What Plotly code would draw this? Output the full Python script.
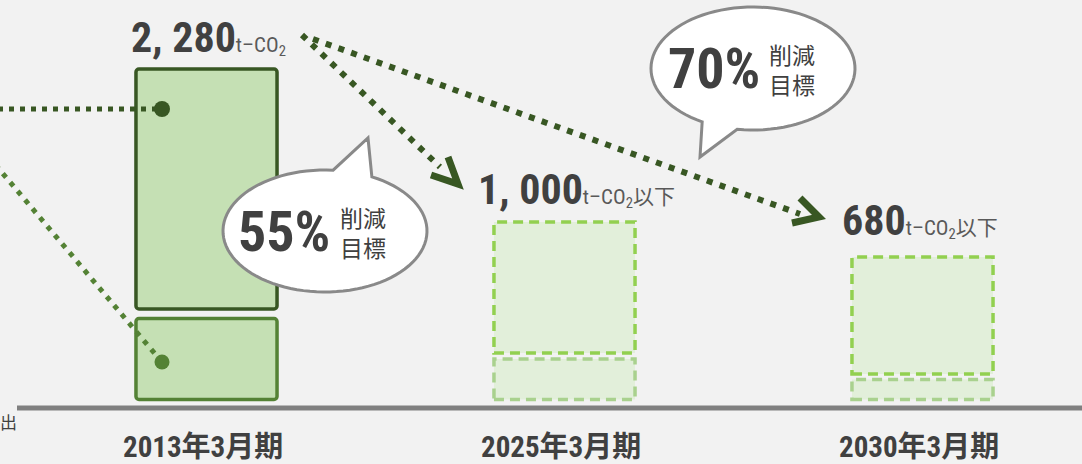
import math
import plotly.graph_objects as go

W, H = 1082, 464

# ---- data ----
categories = ["2013年3月期", "2025年3月期", "2030年3月期"]
total_labels = ["2, 280", "1, 000", "680"]
label_suffix = ["t–CO<sub>2</sub>", "t–CO<sub>2</sub>以下", "t–CO<sub>2</sub>以下"]
# displayed segment heights (drawing units)
lower_height = [81, 40.5, 20]
segment_gap = [9.5, 6, 5.5]
upper_height = [240, 131, 117]
target_pct = ["55%", "70%"]
target_text = "削減<br>目標"

BG = "#f2f2f2"
TXT = "#404040"
DK = "#385723"
MD = "#548235"
FILL = "#c5e0b4"
FFILL = "#e2efda"
DASH_UP = "#92d050"
DASH_LO = "#a9d18e"
GRAY = "#898989"
FONT = "Roboto Condensed, Noto Sans CJK JP, sans-serif"
CJK = "Noto Sans CJK JP"

bar_w = 0.394
upper_base = [l + g for l, g in zip(lower_height, segment_gap)]

fig = go.Figure()
# actual (2013)
fig.add_bar(x=categories[:1], y=lower_height[:1], base=[0], width=bar_w,
            marker=dict(color=FILL, line=dict(color=MD, width=3.5), cornerradius=3),
            showlegend=False, hoverinfo="skip")
fig.add_bar(x=categories[:1], y=upper_height[:1], base=upper_base[:1], width=bar_w,
            marker=dict(color=FILL, line=dict(color=DK, width=3.5), cornerradius=3),
            showlegend=False, hoverinfo="skip")
# targets
fig.add_bar(x=categories[1:], y=lower_height[1:], base=[0, 0], width=bar_w,
            marker=dict(color=FFILL, line=dict(width=0)),
            showlegend=False, hoverinfo="skip")
fig.add_bar(x=categories[1:], y=upper_height[1:], base=upper_base[1:], width=bar_w,
            marker=dict(color=FFILL, line=dict(width=0)),
            showlegend=False, hoverinfo="skip")

shapes = []
for i in (1, 2):
    for b, h, c in ((0, lower_height[i], DASH_LO), (upper_base[i], upper_height[i], DASH_UP)):
        shapes.append(dict(type="rect", xref="x", yref="y",
                           x0=i - bar_w / 2, x1=i + bar_w / 2, y0=b, y1=b + h,
                           line=dict(color=c, width=3.5, dash="10px,6px"),
                           fillcolor="rgba(0,0,0,0)", layer="above"))


def PX(x):
    return x / W


def PY(y):
    return 1 - y / H


def pline(x0, y0, x1, y1, color, width, dash):
    return dict(type="line", xref="paper", yref="paper", x0=PX(x0), y0=PY(y0),
                x1=PX(x1), y1=PY(y1), line=dict(color=color, width=width, dash=dash))


def dot(cx, cy, r, color):
    return dict(type="circle", xref="paper", yref="paper", x0=PX(cx - r), x1=PX(cx + r),
                y0=PY(cy - r), y1=PY(cy + r), fillcolor=color, line=dict(width=0))


def path(pts, color, width, fill=None, close=False):
    d = "M " + " L ".join(f"{PX(x):.5f},{PY(y):.5f}" for x, y in pts)
    if close:
        d += " Z"
    s = dict(type="path", xref="paper", yref="paper", path=d,
             line=dict(color=color, width=width))
    if fill:
        s["fillcolor"] = fill
    return s


def bubble(cx, cy, rx, ry, base_a, base_b, tip):
    ta = math.atan2((base_a[1] - cy) / ry, (base_a[0] - cx) / rx)
    tb = math.atan2((base_b[1] - cy) / ry, (base_b[0] - cx) / rx)
    t1, t2 = min(ta, tb), max(ta, tb)
    pts = []
    n = 90
    for k in range(n + 1):
        t = t2 + (t1 + 2 * math.pi - t2) * k / n
        pts.append((cx + rx * math.cos(t), cy + ry * math.sin(t)))
    pts.append(tip)
    return path(pts, GRAY, 3, fill="white", close=True)


# baseline
shapes.append(pline(17, 408, 1090, 408, "#808080", 5, "solid"))
# leader lines to 2013 segments
shapes.append(pline(-2, 109, 156, 109, DK, 5, "5px,6px"))
shapes.append(pline(-12, 156, 156, 355, MD, 5, "5px,6.5px"))
shapes.append(dot(162, 109, 8, DK))
shapes.append(dot(162, 362, 7.5, MD))
# arrows
shapes.append(pline(302, 35, 440, 167, DK, 6, "6px,7.5px"))
shapes.append(pline(313, 39, 800, 214, DK, 6, "6px,7.5px"))
shapes.append(path([(448, 157), (458, 184), (431, 175)], DK, 7))
shapes.append(path([(800, 198), (819, 217), (792, 223)], DK, 7))
# speech bubbles
shapes.append(bubble(325, 231, 102, 61, (333, 171), (370, 179), (368, 138)))
shapes.append(bubble(753, 68.5, 102, 61.5, (702, 122), (737, 130), (700, 157)))

ann = []
# totals
tot_pos = [(208, 38), (576, 189), (920, 221)]
for (x, y), t, s in zip(tot_pos, total_labels, label_suffix):
    ann.append(dict(xref="paper", yref="paper", x=PX(x), y=PY(y), xanchor="center", yanchor="middle",
                    showarrow=False,
                    text=f"<b>{t}</b><span style='font-size:21px;color:#595959'>{s}</span>",
                    font=dict(family=FONT, size=42, color=TXT)))
# bubble texts
for (xp, xt, y), p in zip([(284, 363, 232), (714, 792, 69)], target_pct):
    ann.append(dict(xref="paper", yref="paper", x=PX(xp), y=PY(y), xanchor="center", yanchor="middle",
                    showarrow=False, text=f"<b>{p}</b>", font=dict(family=FONT, size=56, color=TXT)))
    ann.append(dict(xref="paper", yref="paper", x=PX(xt), y=PY(y), xanchor="center", yanchor="middle",
                    showarrow=False, text=target_text, align="left",
                    font=dict(family=CJK, size=23, color=TXT)))
# category labels
for i, c in enumerate(categories):
    ann.append(dict(xref="x", yref="paper", x=c, y=PY(447), xanchor="center", yanchor="middle",
                    xshift=-4, showarrow=False, text=f"<b>{c}</b>",
                    font=dict(family=FONT, size=29, color=TXT)))
# cut-off left label
ann.append(dict(xref="paper", yref="paper", x=PX(19), y=PY(421), xanchor="right", yanchor="middle",
                showarrow=False, text="排出", font=dict(family=CJK, size=17, color=TXT)))

fig.update_layout(
    width=W, height=H, autosize=False,
    margin=dict(l=0, r=0, t=0, b=0),
    paper_bgcolor=BG, plot_bgcolor=BG,
    barmode="overlay",
    xaxis=dict(type="category", range=[-206.5 / 358, (W - 206.5) / 358], visible=False, fixedrange=True),
    yaxis=dict(range=[-64.5, 399.5], visible=False, fixedrange=True),
    shapes=shapes, annotations=ann, showlegend=False,
)

fig.write_html("out.html", config={"displayModeBar": False},
               post_script="document.body.style.margin='0';document.body.style.overflow='hidden';")
